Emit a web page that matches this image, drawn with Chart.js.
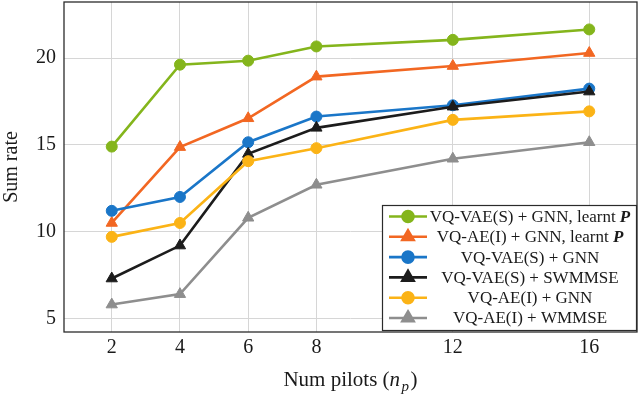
<!DOCTYPE html>
<html>
<head>
<meta charset="utf-8">
<script src="https://cdn.jsdelivr.net/npm/chart.js@4.4.1/dist/chart.umd.min.js"></script>
<style>
  html, body { margin: 0; padding: 0; background: #ffffff; }
  #c { display: block; }
</style>
</head>
<body>
<canvas id="c" width="640" height="396"></canvas>
<script>
// ---- data ----
const numPilots = [2, 4, 6, 8, 12, 16];
const xTickValues = [2, 4, 6, 8, 12, 16];
const yTickValues = [5, 10, 15, 20];

const vqvaeGnnLearnt = [14.9, 19.62, 19.85, 20.67, 21.05, 21.65];
const vqaeGnnLearnt  = [10.5, 14.87, 16.53, 18.93, 19.54, 20.29];
const vqvaeGnn       = [11.2, 12.0, 15.15, 16.63, 17.28, 18.24];
const vqvaeSwmmse    = [7.3, 9.2, 14.48, 15.98, 17.2, 18.07];
const vqaeGnn        = [9.7, 10.5, 14.06, 14.81, 16.44, 16.93];
const vqaeWmmse      = [5.8, 6.4, 10.8, 12.7, 14.2, 15.15];

const seriesNames = [
  'VQ-VAE(S) + GNN, learnt',
  'VQ-AE(I) + GNN, learnt',
  'VQ-VAE(S) + GNN',
  'VQ-VAE(S) + SWMMSE',
  'VQ-AE(I) + GNN',
  'VQ-AE(I) + WMMSE'
];
const seriesHasP = [true, true, false, false, false, false];

// ---- styles ----
const FONT = '"Liberation Serif", "DejaVu Serif", serif';
const colors = ['#84b51c', '#f26722', '#1a76c8', '#1c1c1c', '#fbb316', '#8e8e8e'];
const markers = ['circle', 'triangle', 'circle', 'triangle', 'circle', 'triangle'];
const seriesValues = [vqvaeGnnLearnt, vqaeGnnLearnt, vqvaeGnn, vqvaeSwmmse, vqaeGnn, vqaeWmmse];

function toPoints(vals) { return numPilots.map((x, i) => ({ x: x, y: vals[i] })); }

const datasets = seriesValues.map((vals, i) => ({
  label: seriesNames[i],
  data: toPoints(vals),
  order: seriesValues.length - i,
  borderColor: colors[i],
  backgroundColor: colors[i],
  pointBackgroundColor: colors[i],
  pointBorderColor: colors[i],
  pointStyle: markers[i],
  pointRadius: markers[i] === 'circle' ? 5.5 : 6.5,
  pointBorderWidth: 1,
  borderWidth: 2.6,
  tension: 0,
  fill: false,
  clip: false
}));

const boxAndLegend = {
  id: 'boxAndLegend',
  afterDatasetsDraw(chart) {
    const ctx = chart.ctx;
    const a = chart.chartArea;
    ctx.save();
    // axis box
    ctx.strokeStyle = '#2b2b2b';
    ctx.lineWidth = 1.3;
    ctx.strokeRect(a.left, a.top, a.right - a.left, a.bottom - a.top);

    // legend box (south-east)
    const bw = 254, bh = 125;
    const bx = a.right - 1 - bw, by = a.bottom - 2 - bh;
    ctx.fillStyle = '#ffffff';
    ctx.fillRect(bx, by, bw, bh);
    ctx.strokeStyle = '#2b2b2b';
    ctx.lineWidth = 1.2;
    ctx.strokeRect(bx + 0.5, by + 0.5, bw, bh);

    const rowH = 20.3;
    const firstY = by + 11.5;
    const textCenter = bx + 148;
    chart.data.datasets.forEach((ds, i) => {
      const y = firstY + i * rowH;
      ctx.strokeStyle = ds.borderColor;
      ctx.lineWidth = 2.6;
      ctx.beginPath();
      ctx.moveTo(bx + 7, y);
      ctx.lineTo(bx + 45, y);
      ctx.stroke();
      ctx.fillStyle = ds.borderColor;
      Chart.helpers.drawPoint(ctx, {
        pointStyle: ds.pointStyle, radius: ds.pointRadius, borderWidth: 1, rotation: 0
      }, bx + 26, y);
      ctx.fill();

      // text
      ctx.fillStyle = '#1a1a1a';
      ctx.textBaseline = 'middle';
      ctx.textAlign = 'left';
      const regFont = '17px ' + FONT;
      const pFont = 'italic bold 17px ' + FONT;
      ctx.font = regFont;
      const txt = ds.label + (seriesHasP[i] ? ' ' : '');
      const w1 = ctx.measureText(txt).width;
      let w2 = 0;
      if (seriesHasP[i]) { ctx.font = pFont; w2 = ctx.measureText('P').width; }
      const sx = textCenter - (w1 + w2) / 2;
      ctx.font = regFont;
      ctx.fillText(txt, sx, y + 1);
      if (seriesHasP[i]) { ctx.font = pFont; ctx.fillText('P', sx + w1, y + 1); }
    });

    // x-axis title: Num pilots (n_p)
    const cx = (a.left + a.right) / 2;
    const ty = 380;
    const f = '21px ' + FONT, fi = 'italic 21px ' + FONT, fs = 'italic 15px ' + FONT;
    const parts = [['Num pilots (', f, 0], ['n', fi, 0], ['p', fs, 5], [')', f, 0]];
    let total = 0;
    parts.forEach(p => { ctx.font = p[1]; total += ctx.measureText(p[0]).width + (p[0] === 'n' || p[0] === 'p' ? 1.5 : 0); });
    let px = cx - total / 2;
    ctx.fillStyle = '#1a1a1a';
    ctx.textBaseline = 'alphabetic';
    parts.forEach(p => {
      ctx.font = p[1];
      ctx.fillText(p[0], px, ty + 6 + p[2]);
      px += ctx.measureText(p[0]).width + (p[0] === 'n' || p[0] === 'p' ? 1.5 : 0);
    });
    ctx.restore();
  }
};

new Chart(document.getElementById('c'), {
  type: 'line',
  data: { datasets: datasets },
  options: {
    responsive: false,
    devicePixelRatio: 1,
    animation: false,
    layout: { autoPadding: false, padding: { left: 0, right: 3, top: 2, bottom: 0 } },
    plugins: { legend: { display: false }, tooltip: { enabled: false } },
    scales: {
      x: {
        type: 'linear',
        min: 0.6,
        max: 17.4,
        afterBuildTicks: (axis) => { axis.ticks = xTickValues.map(v => ({ value: v })); },
        afterFit: (axis) => { axis.height = 64; axis.paddingLeft = 0; axis.paddingRight = 0; },
        grid: { color: '#d6d6d6', lineWidth: 1, drawTicks: false },
        border: { display: false },
        ticks: { font: { family: FONT, size: 20 }, color: '#1a1a1a', padding: 4, maxRotation: 0, autoSkip: false }
      },
      y: {
        type: 'linear',
        min: 4.22,
        max: 23.23,
        afterBuildTicks: (axis) => { axis.ticks = yTickValues.map(v => ({ value: v })); },
        afterFit: (axis) => { axis.width = 64; axis.paddingTop = 0; axis.paddingBottom = 0; },
        grid: { color: '#d6d6d6', lineWidth: 1, drawTicks: false },
        border: { display: false },
        ticks: { font: { family: FONT, size: 20 }, color: '#1a1a1a', padding: 8 },
        title: { display: true, text: 'Sum rate', font: { family: FONT, size: 20 }, color: '#1a1a1a', padding: { top: 0, bottom: 0 } }
      }
    }
  },
  plugins: [boxAndLegend]
});
</script>
</body>
</html>
